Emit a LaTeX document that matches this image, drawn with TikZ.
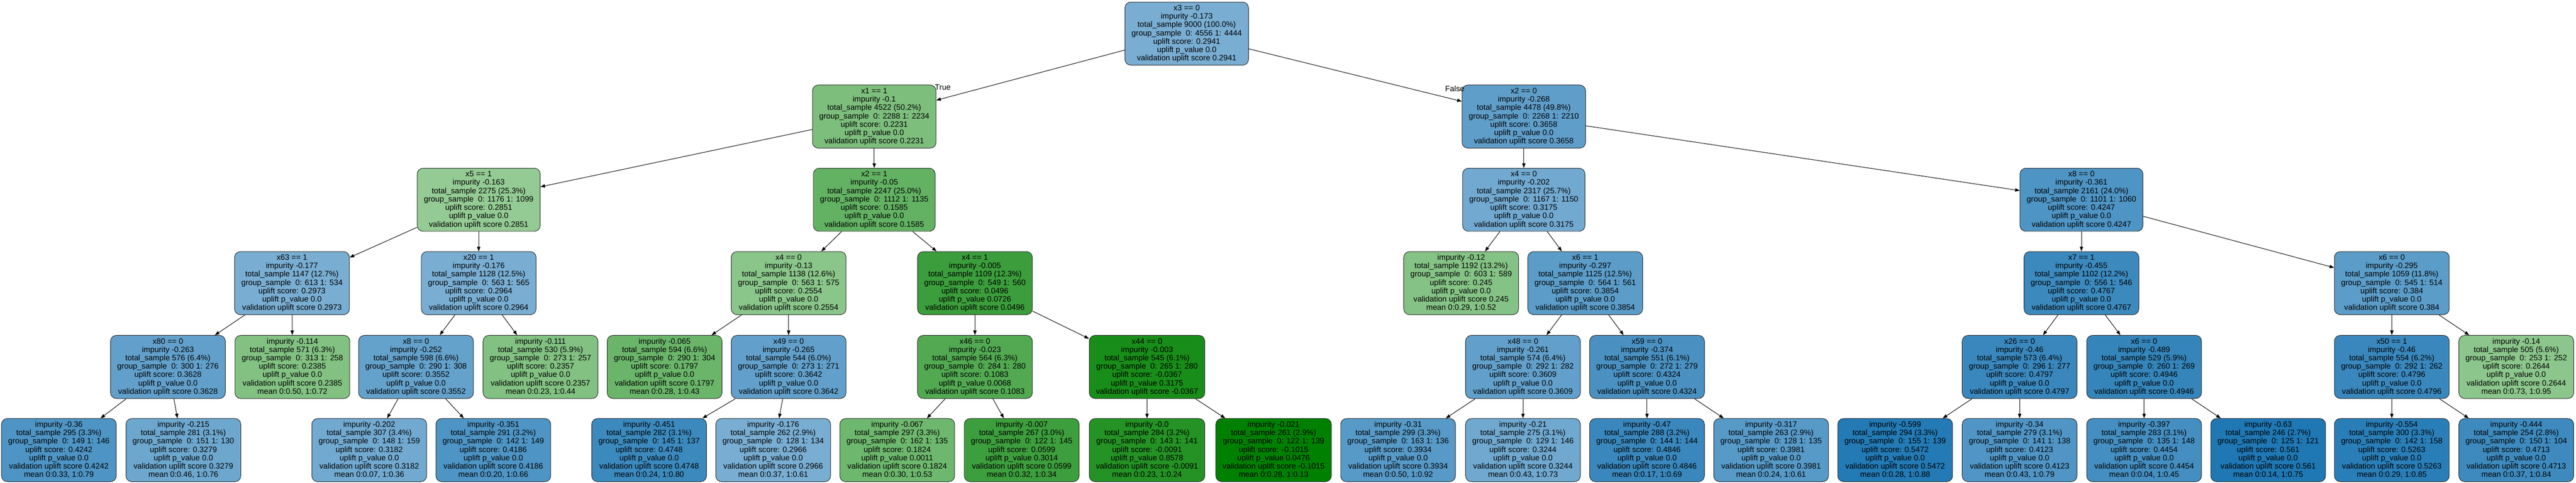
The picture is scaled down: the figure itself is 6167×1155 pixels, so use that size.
\documentclass[tikz,border=0pt]{standalone}
\usepackage{fontspec}
\setmainfont{Liberation Sans}
\usetikzlibrary{arrows.meta}
\definecolor{tb}{HTML}{1F77B4}
\definecolor{tg}{HTML}{008000}
\newcommand\SN[6]{\rule{0pt}{13.5pt}#1\\impurity #2\\total\_sample #3\\group\_sample\ \ 0: #4\\uplift score: #5\\uplift p\_value #6\\validation uplift score #5\rule[-4pt]{0pt}{4pt}}
\newcommand\LN[6]{\rule{0pt}{13.5pt}impurity #1\\total\_sample #2\\group\_sample\ \ 0: #3\\uplift score: #4\\uplift p\_value #5\\validation uplift score #4\\mean #6\rule[-4pt]{0pt}{4pt}}
\tikzset{
  box/.style={draw=black!85, line width=1.2pt, rounded corners=14pt, align=center,
    inner xsep=16pt, inner ysep=0pt, minimum height=151pt,
    font=\fontsize{18.8}{20}\selectfont},
  nb/.style={box, fill=tb!#1!white},
  ng/.style={box, fill=tg!#1!white},
  edge/.style={draw=black, line width=1.2pt, -{Triangle[length=11pt,width=8pt]}},
  elab/.style={font=\fontsize{18.8}{20}\selectfont, inner sep=0pt}
}
\begin{document}
\begin{tikzpicture}[x=1pt,y=1pt]
\fill[white] (0,0) rectangle (6167,1155);
\useasboundingbox (0,0) rectangle (6167,1155);
% level 0
\node[nb=60] (r) at (2841,1074.5) {\SN{x3 == 0}{-0.173}{9000 (100.0\%)}{4556 1: 4444}{0.2941}{0.0}};
% level 1
\node[ng=51] (n1) at (2093,876) {\SN{x1 == 1}{-0.1}{4522 (50.2\%)}{2288 1: 2234}{0.2231}{0.0}};
\node[nb=71] (n2) at (3648,876) {\SN{x2 == 0}{-0.268}{4478 (49.8\%)}{2268 1: 2210}{0.3658}{0.0}};
% level 2
\node[ng=42] (n3) at (1146,677) {\SN{x5 == 1}{-0.163}{2275 (25.3\%)}{1176 1: 1099}{0.2851}{0.0}};
\node[ng=61] (n4) at (2093,677) {\SN{x2 == 1}{-0.05}{2247 (25.0\%)}{1112 1: 1135}{0.1585}{0.0}};
\node[nb=63] (n5) at (3648,677) {\SN{x4 == 0}{-0.202}{2317 (25.7\%)}{1167 1: 1150}{0.3175}{0.0}};
\node[nb=79] (n6) at (4983,677) {\SN{x8 == 0}{-0.361}{2161 (24.0\%)}{1101 1: 1060}{0.4247}{0.0}};
% level 3
\node[nb=60] (n7) at (699,477.5) {\SN{x63 == 1}{-0.177}{1147 (12.7\%)}{613 1: 534}{0.2973}{0.0}};
\node[nb=60] (n8) at (1146,477.5) {\SN{x20 == 1}{-0.176}{1128 (12.5\%)}{563 1: 565}{0.2964}{0.0}};
\node[ng=46] (n9) at (1888,477.5) {\SN{x4 == 0}{-0.13}{1138 (12.6\%)}{563 1: 575}{0.2554}{0.0}};
\node[ng=77] (n10) at (2334,477.5) {\SN{x4 == 1}{-0.005}{1109 (12.3\%)}{549 1: 560}{0.0496}{0.0726}};
\node[ng=48] (n11) at (3498,477.5) {\LN{-0.12}{1192 (13.2\%)}{603 1: 589}{0.245}{0.0}{0:0.29, 1:0.52}};
\node[nb=73] (n12) at (3795,477.5) {\SN{x6 == 1}{-0.297}{1125 (12.5\%)}{564 1: 561}{0.3854}{0.0}};
\node[nb=87] (n13) at (4983,477.5) {\SN{x7 == 1}{-0.455}{1102 (12.2\%)}{556 1: 546}{0.4767}{0.0}};
\node[nb=73] (n14) at (5726,477.5) {\SN{x6 == 0}{-0.295}{1059 (11.8\%)}{545 1: 514}{0.384}{0.0}};
% level 4
\node[nb=70] (n15) at (402,277) {\SN{x80 == 0}{-0.263}{576 (6.4\%)}{300 1: 276}{0.3628}{0.0}};
\node[ng=49] (n16) at (700,277) {\LN{-0.114}{571 (6.3\%)}{313 1: 258}{0.2385}{0.0}{0:0.50, 1:0.72}};
\node[nb=69] (n17) at (996,277) {\SN{x8 == 0}{-0.252}{598 (6.6\%)}{290 1: 308}{0.3552}{0.0}};
\node[ng=49] (n18) at (1294,277) {\LN{-0.111}{530 (5.9\%)}{273 1: 257}{0.2357}{0.0}{0:0.23, 1:0.44}};
\node[ng=58] (n19) at (1591,277) {\LN{-0.065}{594 (6.6\%)}{290 1: 304}{0.1797}{0.0}{0:0.28, 1:0.43}};
\node[nb=70] (n20) at (1888,277) {\SN{x49 == 0}{-0.265}{544 (6.0\%)}{273 1: 271}{0.3642}{0.0}};
\node[ng=68] (n21) at (2334,277) {\SN{x46 == 0}{-0.023}{564 (6.3\%)}{284 1: 280}{0.1083}{0.0068}};
\node[ng=90] (n22) at (2746,277) {\SN{x44 == 0}{-0.003}{545 (6.1\%)}{265 1: 280}{-0.0367}{0.3175}};
\node[nb=70] (n23) at (3646,277) {\SN{x48 == 0}{-0.261}{574 (6.4\%)}{292 1: 282}{0.3609}{0.0}};
\node[nb=81] (n24) at (3943,277) {\SN{x59 == 0}{-0.374}{551 (6.1\%)}{272 1: 279}{0.4324}{0.0}};
\node[nb=88] (n25) at (4835,277) {\SN{x26 == 0}{-0.46}{573 (6.4\%)}{296 1: 277}{0.4797}{0.0}};
\node[nb=90] (n26) at (5133,277) {\SN{x6 == 0}{-0.489}{529 (5.9\%)}{260 1: 269}{0.4946}{0.0}};
\node[nb=88] (n27) at (5726,277) {\SN{x50 == 1}{-0.46}{554 (6.2\%)}{292 1: 262}{0.4796}{0.0}};
\node[ng=45] (n28) at (6024,277) {\LN{-0.14}{505 (5.6\%)}{253 1: 252}{0.2644}{0.0}{0:0.73, 1:0.95}};
% level 5
\node[nb=79] (m1) at (141,78) {\LN{-0.36}{295 (3.3\%)}{149 1: 146}{0.4242}{0.0}{0:0.33, 1:0.79}};
\node[nb=65] (m2) at (439,78) {\LN{-0.215}{281 (3.1\%)}{151 1: 130}{0.3279}{0.0}{0:0.46, 1:0.76}};
\node[nb=63] (m3) at (884,78) {\LN{-0.202}{307 (3.4\%)}{148 1: 159}{0.3182}{0.0}{0:0.07, 1:0.36}};
\node[nb=79] (m4) at (1181,78) {\LN{-0.351}{291 (3.2\%)}{142 1: 149}{0.4186}{0.0}{0:0.20, 1:0.66}};
\node[nb=87] (m5) at (1554,78) {\LN{-0.451}{282 (3.1\%)}{145 1: 137}{0.4748}{0.0}{0:0.24, 1:0.80}};
\node[nb=60] (m6) at (1851,78) {\LN{-0.176}{262 (2.9\%)}{128 1: 134}{0.2966}{0.0}{0:0.37, 1:0.61}};
\node[ng=57] (m7) at (2148,78) {\LN{-0.067}{297 (3.3\%)}{162 1: 135}{0.1824}{0.0011}{0:0.30, 1:0.53}};
\node[ng=76] (m8) at (2446,78) {\LN{-0.007}{267 (3.0\%)}{122 1: 145}{0.0599}{0.3014}{0:0.32, 1:0.34}};
\node[ng=86] (m9) at (2746,78) {\LN{-0.0}{284 (3.2\%)}{143 1: 141}{-0.0091}{0.8578}{0:0.23, 1:0.24}};
\node[ng=100] (m10) at (3049,78) {\LN{-0.021}{261 (2.9\%)}{122 1: 139}{-0.1015}{0.0476}{0:0.28, 1:0.13}};
\node[nb=75] (m11) at (3347,78) {\LN{-0.31}{299 (3.3\%)}{163 1: 136}{0.3934}{0.0}{0:0.50, 1:0.92}};
\node[nb=64] (m12) at (3646,78) {\LN{-0.21}{275 (3.1\%)}{129 1: 146}{0.3244}{0.0}{0:0.43, 1:0.73}};
\node[nb=88] (m13) at (3943,78) {\LN{-0.47}{288 (3.2\%)}{144 1: 144}{0.4846}{0.0}{0:0.17, 1:0.69}};
\node[nb=75] (m14) at (4240,78) {\LN{-0.317}{263 (2.9\%)}{128 1: 135}{0.3981}{0.0}{0:0.24, 1:0.61}};
\node[nb=98] (m15) at (4537,78) {\LN{-0.599}{294 (3.3\%)}{155 1: 139}{0.5472}{0.0}{0:0.28, 1:0.88}};
\node[nb=78] (m16) at (4835,78) {\LN{-0.34}{279 (3.1\%)}{141 1: 138}{0.4123}{0.0}{0:0.43, 1:0.79}};
\node[nb=83] (m17) at (5133,78) {\LN{-0.397}{283 (3.1\%)}{135 1: 148}{0.4454}{0.0}{0:0.04, 1:0.45}};
\node[nb=100] (m18) at (5430,78) {\LN{-0.63}{246 (2.7\%)}{125 1: 121}{0.561}{0.0}{0:0.14, 1:0.75}};
\node[nb=95] (m19) at (5726,78) {\LN{-0.554}{300 (3.3\%)}{142 1: 158}{0.5263}{0.0}{0:0.29, 1:0.85}};
\node[nb=86] (m20) at (6024,78) {\LN{-0.444}{254 (2.8\%)}{150 1: 104}{0.4713}{0.0}{0:0.37, 1:0.84}};
% edges
\draw[edge] (r) -- (n1);
\draw[edge] (r) -- (n2);
\node[elab, anchor=base west] (ltrue) at (2238,940) {True};
\node[elab, anchor=base east] (lfalse) at (3506,936) {False};
\foreach \p/\c in {n1/n3,n1/n4,n2/n5,n2/n6,
  n3/n7,n3/n8,n4/n9,n4/n10,n5/n11,n5/n12,n6/n13,n6/n14,
  n7/n15,n7/n16,n8/n17,n8/n18,n9/n19,n9/n20,n10/n21,n10/n22,
  n12/n23,n12/n24,n13/n25,n13/n26,n14/n27,n14/n28,
  n15/m1,n15/m2,n17/m3,n17/m4,n20/m5,n20/m6,n21/m7,n21/m8,
  n22/m9,n22/m10,n23/m11,n23/m12,n24/m13,n24/m14,
  n25/m15,n25/m16,n26/m17,n26/m18,n27/m19,n27/m20}
  \draw[edge] (\p) -- (\c);
\end{tikzpicture}
\end{document}
